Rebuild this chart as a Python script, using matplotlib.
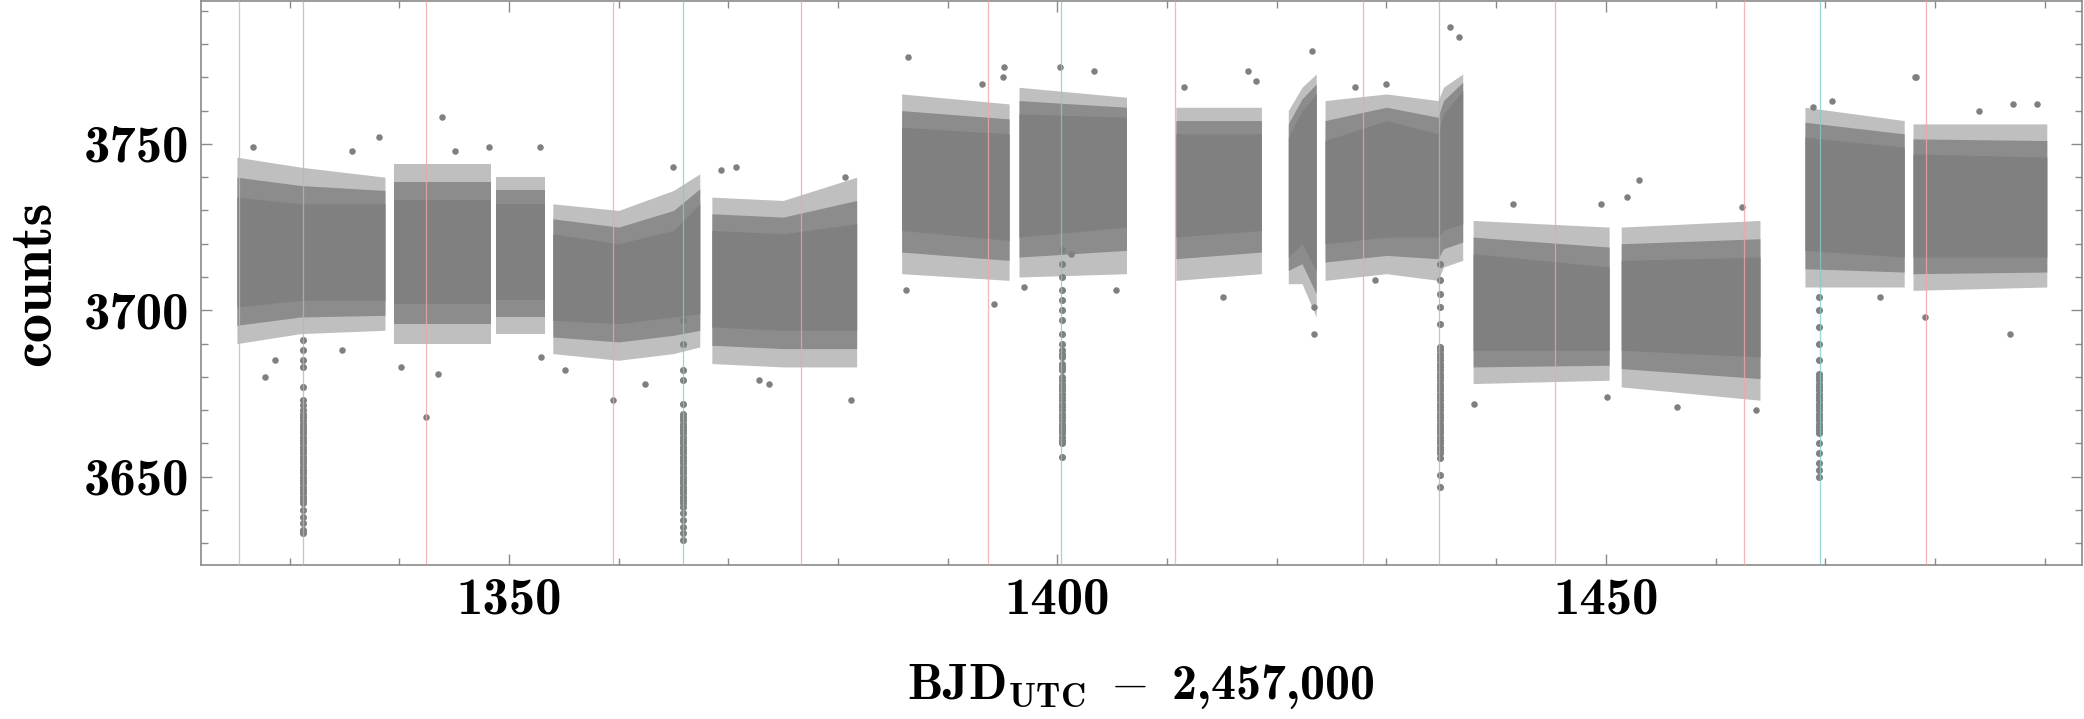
import numpy as np
import matplotlib
matplotlib.use("Agg")
import matplotlib.pyplot as plt
from matplotlib.ticker import MultipleLocator, FuncFormatter

plt.rcParams['mathtext.fontset'] = 'custom'
plt.rcParams['mathtext.bf'] = 'cmb10'
plt.rcParams['mathtext.rm'] = 'cmb10'
plt.rcParams['mathtext.it'] = 'cmb10'
plt.rcParams['mathtext.fallback'] = 'cm'

# ---------------- data ----------------
# segment time spans (BJD - 2457000) with envelope values at knots
seg_knots = [
    [1325.2, 1331.0, 1338.7],
    [1339.5, 1348.4],
    [1348.8, 1353.3],
    [1354.0, 1360.0, 1365.0, 1367.4],
    [1368.5, 1375.0, 1381.7],
    [1385.8, 1395.6],
    [1396.5, 1406.3],
    [1410.8, 1418.6],
    [1421.05, 1422.3, 1423.6],
    [1424.4, 1430.0, 1434.7, 1435.2, 1436.95],
    [1437.9, 1450.3],
    [1451.4, 1464.05],
    [1468.15, 1477.2],
    [1478.0, 1490.2],
]
core_lo = [
    [3701, 3703, 3703], [3702, 3702], [3703, 3703], [3697, 3696, 3698, 3699],
    [3695, 3694, 3694], [3724, 3721], [3722, 3725], [3722, 3724], [3716, 3720, 3712],
    [3720, 3722, 3722, 3724, 3726], [3688, 3688], [3688, 3686], [3718, 3716], [3716, 3716],
]
core_hi = [
    [3734, 3732, 3732], [3733, 3733], [3732, 3732], [3723, 3720, 3724, 3732],
    [3724, 3723, 3726], [3755, 3753], [3759, 3758], [3753, 3753], [3752, 3760, 3765],
    [3751, 3757, 3753, 3759, 3766], [3717, 3713], [3715, 3716], [3752, 3749], [3747, 3746],
]
out_lo = [
    [3690, 3693, 3694], [3690, 3690], [3693, 3693], [3687, 3685, 3687, 3689],
    [3684, 3683, 3683], [3711, 3709], [3710, 3711], [3709, 3711], [3708, 3708, 3698],
    [3709, 3711, 3709, 3713, 3715], [3678, 3679], [3677, 3673], [3707, 3707], [3706, 3707],
]
out_hi = [
    [3746, 3743, 3740], [3744, 3744], [3740, 3740], [3732, 3730, 3736, 3741],
    [3734, 3733, 3740], [3765, 3762], [3767, 3764], [3761, 3761], [3760, 3767, 3771],
    [3763, 3765, 3763, 3767, 3771], [3727, 3725], [3725, 3727], [3761, 3757], [3756, 3756],
]

# transit dips (points below the cloud)
dip_times = [1331.25, 1365.85, 1400.4, 1434.9, 1469.45]
dip_counts = [
    [3691, 3688, 3685, 3683, 3677, 3673, 3671.5, 3670, 3669, 3668, 3667, 3666, 3665, 3664,
     3663, 3662, 3661, 3660, 3659, 3658, 3657, 3656, 3655, 3654, 3653, 3652, 3651, 3650,
     3649, 3648, 3647, 3646, 3645, 3644, 3643, 3642, 3640, 3638, 3636, 3634, 3633],
    [3697, 3690, 3682, 3679, 3672, 3669, 3668, 3667, 3666, 3665, 3664, 3663, 3662, 3661,
     3660, 3659, 3658, 3657, 3656, 3655, 3654, 3653, 3652, 3651, 3650, 3649, 3648, 3647,
     3646, 3645, 3644, 3643, 3642, 3641, 3639, 3637, 3635, 3633, 3631],
    [3718, 3714, 3710, 3706, 3703, 3700, 3697, 3693, 3690, 3688, 3687, 3686, 3684, 3683,
     3682, 3680, 3679, 3678, 3677, 3676, 3675, 3674, 3673, 3672, 3671, 3670, 3669, 3668,
     3667, 3666, 3665, 3664, 3663, 3662, 3661, 3660, 3656],
    [3714, 3709, 3705, 3701, 3696, 3689, 3688, 3687, 3686, 3685, 3684, 3683, 3682, 3681,
     3680, 3679, 3678, 3677, 3676, 3675, 3674, 3673, 3672, 3671, 3670, 3669, 3668, 3667,
     3666, 3665, 3664, 3663, 3662, 3661, 3660, 3659, 3658, 3657, 3655.5, 3650.5, 3647],
    [3704, 3700, 3695, 3690, 3685, 3681, 3680, 3679, 3678, 3677, 3676, 3675, 3674, 3673,
     3672, 3671, 3670, 3669, 3668, 3667, 3666, 3665, 3664, 3663, 3660, 3657, 3654, 3652, 3650],
]

# isolated outliers
out_t = [1326.7, 1338.2, 1343.9, 1327.8, 1328.7, 1340.2, 1342.4, 1345.1, 1348.2, 1335.7,
         1334.8, 1343.5, 1352.8, 1365.0, 1359.5, 1355.1, 1362.4, 1369.3, 1370.7, 1372.8,
         1373.7, 1352.9, 1380.6, 1381.2, 1386.2, 1386.4, 1395.1, 1395.0, 1393.1, 1394.2,
         1397.0, 1401.2, 1400.2, 1417.4, 1423.2, 1435.8, 1436.6, 1403.3, 1405.3, 1415.1,
         1423.4, 1423.4, 1427.1, 1411.5, 1418.1, 1430.0, 1453.0, 1438.0, 1450.1, 1451.9,
         1449.6, 1441.5, 1429.0, 1456.5, 1463.7, 1462.4, 1470.6, 1468.9, 1478.3, 1475.0,
         1479.1, 1486.8, 1487.1, 1489.3, 1484.0, 1478.2]
out_c = [3749, 3752, 3758, 3680, 3685, 3683, 3668, 3748, 3749, 3748,
         3688, 3681, 3749, 3743, 3673, 3682, 3678, 3742, 3743, 3679,
         3678, 3686, 3740, 3673, 3706, 3776, 3773, 3770, 3768, 3702,
         3707, 3717, 3773, 3772, 3778, 3785, 3782, 3772, 3706, 3704,
         3693, 3701, 3767, 3767, 3769, 3768, 3739, 3672, 3674, 3734,
         3732, 3732, 3709, 3671, 3670, 3731, 3763, 3761, 3770, 3704,
         3698, 3693, 3762, 3762, 3760, 3770]

red_lines = [1325.4, 1342.4, 1359.5, 1376.6, 1393.7, 1410.7, 1427.9, 1445.4, 1462.6, 1479.2]
cyan_lines = [1331.2, 1365.9, 1400.3, 1434.8, 1469.5]

x_ticks = [1350, 1400, 1450]
y_ticks = [3650, 3700, 3750]

# ---------------- drawing ----------------
fig = plt.figure(figsize=(20.84, 7.19), dpi=100)
ax = fig.add_axes([0.0963, 0.2142, 0.9027, 0.7848])

pt_color = '#808080'
for k, clo, chi, olo, ohi in zip(seg_knots, core_lo, core_hi, out_lo, out_hi):
    k = np.array(k, float)
    clo, chi, olo, ohi = map(lambda a: np.array(a, float), (clo, chi, olo, ohi))
    mlo = (clo + olo) / 2
    mhi = (chi + ohi) / 2
    ax.fill_between(k, olo, ohi, color=pt_color, alpha=0.50, lw=0, zorder=2)
    ax.fill_between(k, mlo, mhi, color=pt_color, alpha=0.80, lw=0, zorder=2)
    ax.fill_between(k, clo, chi, color=pt_color, alpha=1.0, lw=0, zorder=2)

for t, cs in zip(dip_times, dip_counts):
    ax.scatter(np.full(len(cs), t), cs, s=26, color=pt_color, lw=0, zorder=3)

ax.scatter(out_t, out_c, s=22, color=pt_color, lw=0, zorder=3)

for v in red_lines:
    ax.axvline(v, color='#f2a4a4', lw=0.9, alpha=0.8, zorder=4)
for v in cyan_lines:
    ax.axvline(v, color='#80cccc', lw=0.9, alpha=0.8, zorder=4)

ax.set_xlim(1321.9, 1493.4)
ax.set_ylim(3623.5, 3793.0)

ax.set_xticks(x_ticks)
ax.set_yticks(y_ticks)
ax.xaxis.set_minor_locator(MultipleLocator(10))
ax.yaxis.set_minor_locator(MultipleLocator(10))
fmt = FuncFormatter(lambda v, p: '%d' % int(round(v)))
ax.xaxis.set_major_formatter(fmt)
ax.yaxis.set_major_formatter(fmt)

spine_c = '#8a8a8a'
for s in ax.spines.values():
    s.set_color(spine_c)
    s.set_linewidth(1.2)
ax.tick_params(which='both', direction='in', top=True, right=True, color=spine_c, width=1.0)
ax.tick_params(which='major', length=8, labelsize=38)
ax.tick_params(axis='x', which='major', pad=9)
ax.tick_params(axis='y', which='major', pad=8)
ax.tick_params(which='minor', length=5)
for lab in ax.get_xticklabels() + ax.get_yticklabels():
    lab.set_fontfamily('cmb10')

ax.set_xlabel(r'$\mathbf{BJD}_{\mathbf{UTC}}\ -\ \mathbf{2{,}457{,}000}$', fontsize=36, labelpad=28)
ax.set_ylabel('counts', fontsize=42, labelpad=16, fontfamily='cmb10')

fig.savefig('out.png', dpi=100)
